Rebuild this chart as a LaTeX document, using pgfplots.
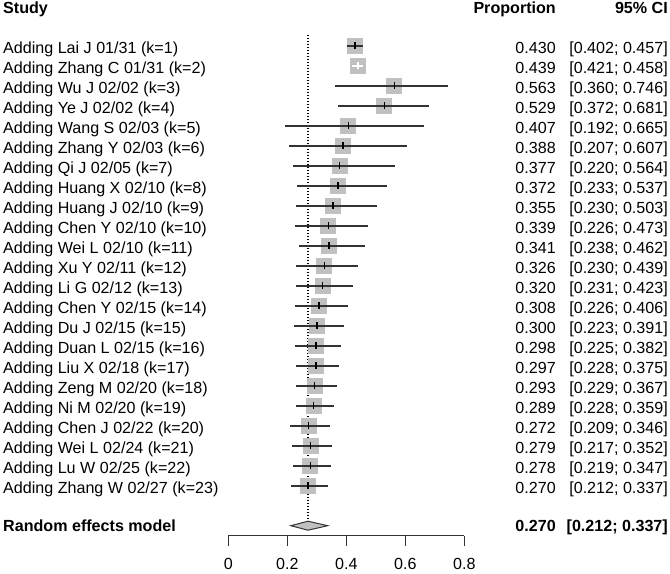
\documentclass[border=0pt]{standalone}
\usepackage{pgfplots}
\usepackage{pgfplotstable}
\pgfplotsset{compat=1.18}
\usepackage{fontspec}
\setmainfont{Liberation Sans}
\definecolor{boxgray}{HTML}{C0C0C0}
\definecolor{linegray}{HTML}{333333}
\newcommand\tf{\fontsize{16.1pt}{19pt}\selectfont}

\pgfplotstableread{
k est lo hi
1 0.430 0.402 0.457
2 0.439 0.421 0.458
3 0.563 0.360 0.746
4 0.529 0.372 0.681
5 0.407 0.192 0.665
6 0.388 0.207 0.607
7 0.377 0.220 0.564
8 0.372 0.233 0.537
9 0.355 0.230 0.503
10 0.339 0.226 0.473
11 0.341 0.238 0.462
12 0.326 0.230 0.439
13 0.320 0.231 0.423
14 0.308 0.226 0.406
15 0.300 0.223 0.391
16 0.298 0.225 0.382
17 0.297 0.228 0.375
18 0.293 0.229 0.367
19 0.289 0.228 0.359
20 0.272 0.209 0.346
21 0.279 0.217 0.352
22 0.278 0.219 0.347
23 0.270 0.212 0.337
}\allstudies

\pgfplotstableread{
k est lo hi
2 0.439 0.421 0.458
}\inside

\begin{document}
\begin{tikzpicture}
\begin{axis}[
  at={(0pt,0pt)}, anchor=south west,
  scale only axis, width=670pt, height=573pt,
  xmin=-0.7739, xmax=1.4973,
  ymin=-1.285, ymax=27.365, y dir=reverse,
  hide axis, clip=false, set layers,
]
\path (rel axis cs:0,0) (rel axis cs:1,1);
% dotted reference line (behind boxes)
\addplot[on layer=axis background, black, line width=1.1pt, dash pattern=on 1.1pt off 1.9pt] coordinates {(0.270,0.465) (0.270,24.74)};
% boxes (behind CI lines)
\addplot[on layer=axis grid, mark layer=axis grid, boxgray, only marks, mark=square*, mark size=7.5pt, mark options={fill=boxgray, draw=boxgray, line width=0pt}] table[x=est,y=k]{\allstudies};
% CIs
\addplot[draw=none, mark=none, forget plot,
  error bars/.cd, x dir=both, x explicit, error mark=none,
  error bar style={draw=linegray, line width=1.8pt}]
  table[x=est, y=k, x error plus expr=\thisrow{hi}-\thisrow{est}, x error minus expr=\thisrow{est}-\thisrow{lo}]{\allstudies};
\addplot[black, only marks, mark=|, mark size=3.5pt, mark options={draw=black, line width=1.5pt}] table[x=est,y=k]{\allstudies};
% CI inside box drawn in white
\addplot[draw=none, mark=none, forget plot,
  error bars/.cd, x dir=both, x explicit, error mark=none,
  error bar style={draw=white, line width=1.8pt}]
  table[x=est, y=k, x error plus expr=\thisrow{hi}-\thisrow{est}, x error minus expr=\thisrow{est}-\thisrow{lo}]{\inside};
\addplot[white, only marks, mark=|, mark size=3.5pt, mark options={draw=white, line width=1.5pt}] table[x=est,y=k]{\inside};
% diamond
\addplot[fill=boxgray, draw=linegray, line width=1pt] coordinates {(0.212,25) (0.270,24.775) (0.337,25) (0.270,25.225)} -- cycle;

% headers
\node[anchor=base west, inner sep=0, font=\tf\bfseries] at (axis cs:-0.7637,-0.625) {Study};
\node[anchor=base east, inner sep=0, font=\tf\bfseries] at (axis cs:1.1108,-0.625) {Proportion};
\node[anchor=base east, inner sep=0, font=\tf\bfseries] at (axis cs:1.4905,-0.625) {95\% CI};

\node[anchor=base west, inner sep=0, font=\tf] at (axis cs:-0.7637,1.375) {Adding Lai J 01/31 (k=1)};
\node[anchor=base west, inner sep=0, font=\tf] at (axis cs:-0.7637,2.375) {Adding Zhang C 01/31 (k=2)};
\node[anchor=base west, inner sep=0, font=\tf] at (axis cs:-0.7637,3.375) {Adding Wu J 02/02 (k=3)};
\node[anchor=base west, inner sep=0, font=\tf] at (axis cs:-0.7637,4.375) {Adding Ye J 02/02 (k=4)};
\node[anchor=base west, inner sep=0, font=\tf] at (axis cs:-0.7637,5.375) {Adding Wang S 02/03 (k=5)};
\node[anchor=base west, inner sep=0, font=\tf] at (axis cs:-0.7637,6.375) {Adding Zhang Y 02/03 (k=6)};
\node[anchor=base west, inner sep=0, font=\tf] at (axis cs:-0.7637,7.375) {Adding Qi J 02/05 (k=7)};
\node[anchor=base west, inner sep=0, font=\tf] at (axis cs:-0.7637,8.375) {Adding Huang X 02/10 (k=8)};
\node[anchor=base west, inner sep=0, font=\tf] at (axis cs:-0.7637,9.375) {Adding Huang J 02/10 (k=9)};
\node[anchor=base west, inner sep=0, font=\tf] at (axis cs:-0.7637,10.375) {Adding Chen Y 02/10 (k=10)};
\node[anchor=base west, inner sep=0, font=\tf] at (axis cs:-0.7637,11.375) {Adding Wei L 02/10 (k=11)};
\node[anchor=base west, inner sep=0, font=\tf] at (axis cs:-0.7637,12.375) {Adding Xu Y 02/11 (k=12)};
\node[anchor=base west, inner sep=0, font=\tf] at (axis cs:-0.7637,13.375) {Adding Li G 02/12 (k=13)};
\node[anchor=base west, inner sep=0, font=\tf] at (axis cs:-0.7637,14.375) {Adding Chen Y 02/15 (k=14)};
\node[anchor=base west, inner sep=0, font=\tf] at (axis cs:-0.7637,15.375) {Adding Du J 02/15 (k=15)};
\node[anchor=base west, inner sep=0, font=\tf] at (axis cs:-0.7637,16.375) {Adding Duan L 02/15 (k=16)};
\node[anchor=base west, inner sep=0, font=\tf] at (axis cs:-0.7637,17.375) {Adding Liu X 02/18 (k=17)};
\node[anchor=base west, inner sep=0, font=\tf] at (axis cs:-0.7637,18.375) {Adding Zeng M 02/20 (k=18)};
\node[anchor=base west, inner sep=0, font=\tf] at (axis cs:-0.7637,19.375) {Adding Ni M 02/20 (k=19)};
\node[anchor=base west, inner sep=0, font=\tf] at (axis cs:-0.7637,20.375) {Adding Chen J 02/22 (k=20)};
\node[anchor=base west, inner sep=0, font=\tf] at (axis cs:-0.7637,21.375) {Adding Wei L 02/24 (k=21)};
\node[anchor=base west, inner sep=0, font=\tf] at (axis cs:-0.7637,22.375) {Adding Lu W 02/25 (k=22)};
\node[anchor=base west, inner sep=0, font=\tf] at (axis cs:-0.7637,23.375) {Adding Zhang W 02/27 (k=23)};
\node[anchor=base west, inner sep=0, font=\tf\bfseries] at (axis cs:-0.7637,25.3) {Random effects model};

\node[anchor=base east, inner sep=0, font=\tf] at (axis cs:1.1108,1.375) {0.430};
\node[anchor=base east, inner sep=0, font=\tf] at (axis cs:1.1108,2.375) {0.439};
\node[anchor=base east, inner sep=0, font=\tf] at (axis cs:1.1108,3.375) {0.563};
\node[anchor=base east, inner sep=0, font=\tf] at (axis cs:1.1108,4.375) {0.529};
\node[anchor=base east, inner sep=0, font=\tf] at (axis cs:1.1108,5.375) {0.407};
\node[anchor=base east, inner sep=0, font=\tf] at (axis cs:1.1108,6.375) {0.388};
\node[anchor=base east, inner sep=0, font=\tf] at (axis cs:1.1108,7.375) {0.377};
\node[anchor=base east, inner sep=0, font=\tf] at (axis cs:1.1108,8.375) {0.372};
\node[anchor=base east, inner sep=0, font=\tf] at (axis cs:1.1108,9.375) {0.355};
\node[anchor=base east, inner sep=0, font=\tf] at (axis cs:1.1108,10.375) {0.339};
\node[anchor=base east, inner sep=0, font=\tf] at (axis cs:1.1108,11.375) {0.341};
\node[anchor=base east, inner sep=0, font=\tf] at (axis cs:1.1108,12.375) {0.326};
\node[anchor=base east, inner sep=0, font=\tf] at (axis cs:1.1108,13.375) {0.320};
\node[anchor=base east, inner sep=0, font=\tf] at (axis cs:1.1108,14.375) {0.308};
\node[anchor=base east, inner sep=0, font=\tf] at (axis cs:1.1108,15.375) {0.300};
\node[anchor=base east, inner sep=0, font=\tf] at (axis cs:1.1108,16.375) {0.298};
\node[anchor=base east, inner sep=0, font=\tf] at (axis cs:1.1108,17.375) {0.297};
\node[anchor=base east, inner sep=0, font=\tf] at (axis cs:1.1108,18.375) {0.293};
\node[anchor=base east, inner sep=0, font=\tf] at (axis cs:1.1108,19.375) {0.289};
\node[anchor=base east, inner sep=0, font=\tf] at (axis cs:1.1108,20.375) {0.272};
\node[anchor=base east, inner sep=0, font=\tf] at (axis cs:1.1108,21.375) {0.279};
\node[anchor=base east, inner sep=0, font=\tf] at (axis cs:1.1108,22.375) {0.278};
\node[anchor=base east, inner sep=0, font=\tf] at (axis cs:1.1108,23.375) {0.270};
\node[anchor=base east, inner sep=0, font=\tf\bfseries] at (axis cs:1.1108,25.3) {0.270};

\node[anchor=base east, inner sep=0, font=\tf] at (axis cs:1.4905,1.375) {[0.402; 0.457]};
\node[anchor=base east, inner sep=0, font=\tf] at (axis cs:1.4905,2.375) {[0.421; 0.458]};
\node[anchor=base east, inner sep=0, font=\tf] at (axis cs:1.4905,3.375) {[0.360; 0.746]};
\node[anchor=base east, inner sep=0, font=\tf] at (axis cs:1.4905,4.375) {[0.372; 0.681]};
\node[anchor=base east, inner sep=0, font=\tf] at (axis cs:1.4905,5.375) {[0.192; 0.665]};
\node[anchor=base east, inner sep=0, font=\tf] at (axis cs:1.4905,6.375) {[0.207; 0.607]};
\node[anchor=base east, inner sep=0, font=\tf] at (axis cs:1.4905,7.375) {[0.220; 0.564]};
\node[anchor=base east, inner sep=0, font=\tf] at (axis cs:1.4905,8.375) {[0.233; 0.537]};
\node[anchor=base east, inner sep=0, font=\tf] at (axis cs:1.4905,9.375) {[0.230; 0.503]};
\node[anchor=base east, inner sep=0, font=\tf] at (axis cs:1.4905,10.375) {[0.226; 0.473]};
\node[anchor=base east, inner sep=0, font=\tf] at (axis cs:1.4905,11.375) {[0.238; 0.462]};
\node[anchor=base east, inner sep=0, font=\tf] at (axis cs:1.4905,12.375) {[0.230; 0.439]};
\node[anchor=base east, inner sep=0, font=\tf] at (axis cs:1.4905,13.375) {[0.231; 0.423]};
\node[anchor=base east, inner sep=0, font=\tf] at (axis cs:1.4905,14.375) {[0.226; 0.406]};
\node[anchor=base east, inner sep=0, font=\tf] at (axis cs:1.4905,15.375) {[0.223; 0.391]};
\node[anchor=base east, inner sep=0, font=\tf] at (axis cs:1.4905,16.375) {[0.225; 0.382]};
\node[anchor=base east, inner sep=0, font=\tf] at (axis cs:1.4905,17.375) {[0.228; 0.375]};
\node[anchor=base east, inner sep=0, font=\tf] at (axis cs:1.4905,18.375) {[0.229; 0.367]};
\node[anchor=base east, inner sep=0, font=\tf] at (axis cs:1.4905,19.375) {[0.228; 0.359]};
\node[anchor=base east, inner sep=0, font=\tf] at (axis cs:1.4905,20.375) {[0.209; 0.346]};
\node[anchor=base east, inner sep=0, font=\tf] at (axis cs:1.4905,21.375) {[0.217; 0.352]};
\node[anchor=base east, inner sep=0, font=\tf] at (axis cs:1.4905,22.375) {[0.219; 0.347]};
\node[anchor=base east, inner sep=0, font=\tf] at (axis cs:1.4905,23.375) {[0.212; 0.337]};
\node[anchor=base east, inner sep=0, font=\tf\bfseries] at (axis cs:1.4905,25.3) {[0.212; 0.337]};
\end{axis}

\begin{axis}[
  at={(228.3pt,37.5pt)}, anchor=south west,
  scale only axis, width=236pt, height=20pt,
  xmin=0, xmax=0.8, ymin=0, ymax=1,
  axis x line*=bottom, axis y line=none,
  xtick={0,0.2,0.4,0.6,0.8}, xticklabels={0,0.2,0.4,0.6,0.8},
  tick align=outside, major tick length=10.5pt,
  x axis line style={-, draw=linegray, line width=1pt},
  xtick style={draw=linegray, line width=1pt},
  xticklabel style={font=\tf, text=black, anchor=base, yshift=-24pt},
]
\end{axis}
\end{tikzpicture}
\end{document}
